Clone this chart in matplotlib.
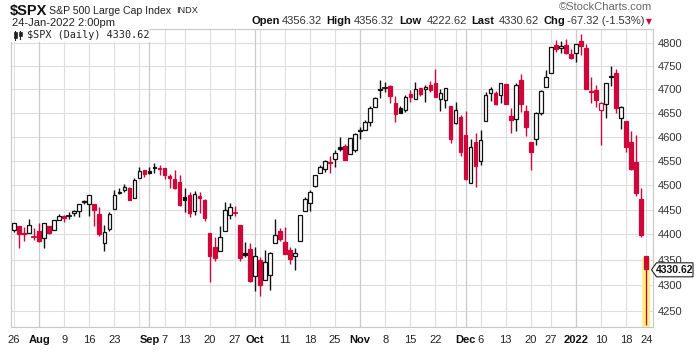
import matplotlib
matplotlib.use('Agg')
import matplotlib.pyplot as plt
from matplotlib.patches import Rectangle, Polygon
from matplotlib.lines import Line2D
from matplotlib.ticker import FixedLocator, NullLocator, FuncFormatter

# ---------------- data (S&P 500 daily, 26-Jul-2021 .. 24-Jan-2022) ----------------
prev_close_start = 4411.79

opens = [
    4409.58, 4416.38, 4402.95, 4403.59, 4395.12,
    4406.86, 4392.74, 4415.95, 4408.86, 4429.07,
    4437.77, 4435.79, 4442.18, 4446.08, 4464.84,
    4461.65, 4462.12, 4440.94, 4382.44, 4410.56,
    4450.29, 4484.40, 4490.45, 4493.75, 4474.10,
    4513.76, 4529.75,
    4528.80, 4534.48, 4532.42,
    4535.38, 4518.09, 4513.02, 4506.92,
    4474.81, 4479.33, 4447.49, 4477.09, 4469.74,
    4402.95, 4374.45, 4367.43, 4406.75, 4438.04,
    4442.12, 4419.54, 4362.41, 4370.67,
    4317.16,
    4348.84, 4309.87, 4319.57, 4383.73, 4406.51,
    4385.44, 4368.31, 4358.01, 4386.75, 4447.69,
    4463.72, 4497.34, 4524.42, 4532.24, 4546.12,
    4553.69, 4578.69, 4580.22, 4562.84, 4572.87,
    4610.62, 4613.34, 4630.65, 4662.93, 4699.26,
    4701.48, 4707.25, 4670.26, 4659.39, 4655.24,
    4689.30, 4679.42, 4701.50, 4700.72, 4708.44,
    4712.00, 4678.48, 4675.78, 4664.63,
    4628.75, 4640.25,
    4602.82, 4504.73, 4589.49,
    4548.37, 4631.97, 4690.86, 4691.00, 4687.64,
    4710.30, 4642.99, 4636.46, 4719.13, 4652.50,
    4587.90, 4594.96, 4650.36, 4703.96,
    4733.99, 4795.49, 4788.64, 4794.23, 4775.21,
    4778.14, 4804.51, 4787.99, 4693.39, 4697.66,
    4655.34, 4669.14, 4728.59, 4733.56, 4637.99,
    4632.24, 4588.03, 4547.35, 4471.38,
    4356.32]

highs = [
    4422.73, 4416.38, 4415.47, 4429.97, 4412.25,
    4422.18, 4423.79, 4416.17, 4429.76, 4440.82,
    4439.39, 4445.21, 4449.44, 4461.77, 4468.37,
    4480.26, 4462.12, 4454.32, 4418.61, 4444.35,
    4489.88, 4492.81, 4501.71, 4495.90, 4513.33,
    4537.36, 4531.39,
    4537.11, 4545.85, 4541.45,
    4535.38, 4521.79, 4529.90, 4520.47,
    4492.99, 4485.68, 4486.87, 4485.87, 4471.52,
    4402.95, 4394.87, 4416.75, 4465.40, 4463.12,
    4457.30, 4419.54, 4385.57, 4382.55,
    4375.19,
    4355.51, 4369.23, 4365.57, 4429.97, 4412.02,
    4415.88, 4374.89, 4372.87, 4439.73, 4475.82,
    4488.75, 4520.40, 4540.87, 4551.44, 4559.67,
    4572.62, 4598.53, 4584.57, 4597.55, 4608.08,
    4620.34, 4635.15, 4663.46, 4683.00, 4718.50,
    4714.92, 4708.53, 4684.85, 4664.55, 4688.47,
    4697.42, 4714.95, 4701.50, 4708.80, 4717.75,
    4743.83, 4699.39, 4702.87, 4664.63,
    4672.95, 4646.02,
    4652.94, 4595.46, 4608.03,
    4612.60, 4694.04, 4705.06, 4695.26, 4713.57,
    4710.30, 4660.47, 4712.60, 4731.99, 4666.70,
    4587.90, 4651.14, 4697.67, 4740.74,
    4791.49, 4807.02, 4804.06, 4808.93, 4786.83,
    4796.64, 4818.62, 4797.70, 4725.01, 4707.95,
    4673.02, 4714.13, 4748.83, 4744.13, 4665.13,
    4632.24, 4611.55, 4602.11, 4494.52,
    4356.32]

lows = [
    4405.45, 4372.51, 4387.01, 4403.59, 4389.65,
    4384.81, 4373.00, 4400.23, 4408.86, 4429.07,
    4424.74, 4430.03, 4436.42, 4435.96, 4460.82,
    4437.66, 4417.83, 4397.59, 4367.73, 4406.80,
    4450.29, 4482.28, 4485.66, 4468.99, 4474.10,
    4513.76, 4515.80,
    4522.02, 4524.66, 4521.30,
    4513.00, 4493.95, 4492.07, 4457.66,
    4445.70, 4435.46, 4438.37, 4443.80, 4427.76,
    4305.91, 4347.96, 4367.43, 4406.75, 4430.27,
    4436.19, 4346.33, 4355.08, 4306.24,
    4288.52,
    4278.94, 4309.87, 4290.49, 4383.73, 4386.22,
    4360.59, 4342.09, 4329.92, 4386.75, 4447.69,
    4447.47, 4496.41, 4524.40, 4526.89, 4524.00,
    4537.36, 4569.17, 4551.66, 4562.84, 4567.59,
    4595.06, 4613.34, 4621.19, 4662.59, 4681.32,
    4694.39, 4670.87, 4630.86, 4648.31, 4650.77,
    4672.86, 4679.42, 4684.41, 4672.78, 4694.22,
    4682.17, 4652.66, 4659.89, 4585.43,
    4625.26, 4560.00,
    4510.27, 4504.73, 4495.12,
    4540.51, 4631.97, 4674.52, 4665.98, 4670.64,
    4667.60, 4606.52, 4611.22, 4651.89, 4600.22,
    4531.10, 4583.16, 4645.53, 4703.96,
    4733.99, 4780.04, 4778.08, 4775.33, 4765.75,
    4758.17, 4774.27, 4699.44, 4671.26, 4662.74,
    4582.24, 4638.27, 4706.71, 4650.29, 4614.75,
    4568.70, 4530.20, 4477.95, 4395.34,
    4222.62]

closes = [
    4422.30, 4401.46, 4400.64, 4419.15, 4395.26,
    4387.16, 4423.15, 4402.66, 4429.10, 4436.52,
    4432.35, 4436.75, 4447.70, 4460.83, 4468.00,
    4479.71, 4448.08, 4400.27, 4405.80, 4441.67,
    4479.53, 4486.23, 4496.19, 4470.00, 4509.37,
    4528.79, 4522.68,
    4524.09, 4536.95, 4535.43,
    4520.03, 4514.07, 4493.28, 4458.58,
    4468.73, 4443.05, 4480.70, 4473.75, 4432.99,
    4357.73, 4354.19, 4395.64, 4448.98, 4455.48,
    4443.11, 4352.63, 4359.46, 4307.54,
    4357.04,
    4300.46, 4345.72, 4363.55, 4399.76, 4391.34,
    4361.19, 4350.65, 4363.80, 4438.26, 4471.37,
    4486.46, 4519.63, 4536.19, 4549.78, 4544.90,
    4566.48, 4574.79, 4551.68, 4596.42, 4605.38,
    4613.67, 4630.65, 4660.57, 4680.06, 4697.53,
    4701.70, 4685.25, 4646.71, 4649.27, 4682.85,
    4682.80, 4700.90, 4688.67, 4704.54, 4697.96,
    4682.94, 4690.70, 4701.46, 4594.62,
    4655.27, 4567.00,
    4513.04, 4577.10, 4538.43,
    4591.67, 4686.75, 4701.21, 4667.45, 4712.02,
    4668.97, 4634.09, 4709.85, 4668.67, 4620.64,
    4568.02, 4649.23, 4696.56, 4725.79,
    4791.19, 4786.35, 4793.06, 4778.73, 4766.18,
    4796.56, 4793.54, 4700.58, 4696.05, 4677.03,
    4670.29, 4713.07, 4726.35, 4659.03, 4662.85,
    4577.11, 4532.76, 4482.73, 4397.94,
    4330.62]

# x tick labels (trading-day index -> label)
tick_idx = [0, 5, 10, 15, 20, 27, 30, 34, 39, 44, 48, 54, 59, 64,
            69, 74, 79, 84, 90, 93, 98, 103, 107, 112, 117, 122, 126]
tick_lbl = ['26', 'Aug', '9', '16', '23', 'Sep', '7', '13', '20', '27', 'Oct', '11', '18', '25',
            'Nov', '8', '15', '22', 'Dec', '6', '13', '20', '27', '2022', '10', '18', '24']
month_lbls = {'Aug', 'Sep', 'Oct', 'Nov', 'Dec', '2022'}
week_grid_idx = [0, 5, 10, 15, 20, 25, 30, 34, 39, 44, 49, 54, 59, 64, 69, 74, 79,
                 84, 88, 93, 98, 103, 107, 112, 117, 122, 126]
month_grid_idx = [5, 27, 48, 69, 90, 112]
y_ticks = [4250, 4300, 4350, 4400, 4450, 4500, 4550, 4600, 4650, 4700, 4750, 4800]

# ---------------- figure ----------------
plt.rcParams['font.family'] = ['Liberation Sans', 'DejaVu Sans']
W, H = 700, 352
fig = plt.figure(figsize=(7, 3.52), dpi=100)
fig.patch.set_facecolor('white')


def fx(x):
    return x / W


def fy(y):
    return 1 - y / H


RED = '#d0063a'
BLK = '#111111'

ax = fig.add_axes([fx(10.7), fy(327), (652.7 - 10.7) / W, (327 - 29) / H])
ax.set_yscale('log')
ax.set_ylim(4219, 4830)
ax.set_xlim(-0.66, 127.3)
ax.yaxis.set_major_locator(FixedLocator(y_ticks))
ax.yaxis.set_minor_locator(NullLocator())
ax.yaxis.set_major_formatter(FuncFormatter(lambda v, p: f"{v:.0f}"))
ax.yaxis.tick_right()
ax.tick_params(axis='y', length=0, pad=3.5, labelsize=8, labelcolor='#333333')
ax.set_xticks(tick_idx)
ax.set_xticklabels(tick_lbl)
ax.tick_params(axis='x', length=0, pad=6, labelsize=8, labelcolor='#222222')
for t in ax.get_xticklabels():
    if t.get_text() in month_lbls:
        t.set_fontweight('bold')
        t.set_color('#111111')
for s in ax.spines.values():
    s.set_color('#c8c8c8')
    s.set_linewidth(0.8)

for v in y_ticks:
    ax.axhline(v, color='#dedede', lw=0.8, zorder=0)
for i in week_grid_idx:
    ax.axvline(i, color='#dedede', lw=0.8, zorder=0)
for i in month_grid_idx:
    ax.axvline(i, color='#cccccc', lw=0.9, zorder=0)

# highlight last bar
n = len(closes)
ax.add_patch(Rectangle((n - 1 - 0.8, 4200), 1.6, 4354 - 4200,
                       facecolor='#fff28a', edgecolor='none', zorder=1))

bw = 0.72
for i in range(n):
    o, h, l, c = opens[i], highs[i], lows[i], closes[i]
    pc = prev_close_start if i == 0 else closes[i - 1]
    col = RED if c < pc else BLK
    ax.plot([i, i], [l, h], color=col, lw=1.0, zorder=2, solid_capstyle='butt')
    lo, hi = min(o, c), max(o, c)
    if hi - lo < 1.0:
        ax.plot([i - bw / 2, i + bw / 2], [c, c], color=col, lw=1.3, zorder=3)
    else:
        face = 'white' if c > o else col
        ax.add_patch(Rectangle((i - bw / 2, lo), bw, hi - lo, facecolor=face,
                               edgecolor=col, lw=0.9, zorder=3))

# ---------------- legend inside plot ----------------
fig.add_artist(Rectangle((fx(11.2), fy(41.5)), fx(150) - fx(11.2), fy(29.5) - fy(41.5),
                         transform=fig.transFigure, facecolor='white', edgecolor='none', zorder=5))
for (xx, y0, y1, b0, b1) in [(15.5, 31, 39.5, 32.5, 37.5), (20, 30.5, 38.5, 32, 36)]:
    fig.add_artist(Line2D([fx(xx), fx(xx)], [fy(y1), fy(y0)], transform=fig.transFigure,
                          color='#222222', lw=0.8, zorder=6))
    fig.add_artist(Rectangle((fx(xx - 1.5), fy(b1)), fx(3), fy(b0) - fy(b1),
                             transform=fig.transFigure, facecolor='#222222',
                             edgecolor='#222222', lw=0.5, zorder=6))
fig.text(fx(27), fy(35.5), '$SPX (Daily) 4330.62', family='DejaVu Sans Mono', fontsize=7.3,
         color='#222222', va='center', ha='left', zorder=7)

# ---------------- header ----------------
fig.text(fx(10), fy(10.5), '$SPX', fontsize=10.5, fontweight='bold', va='center', ha='left', color='#111111')
fig.text(fx(49), fy(10.5), 'S&P 500 Large Cap Index', fontsize=7.6, va='center', ha='left', color='#222222')
fig.text(fx(176), fy(10.5), 'INDX', fontsize=6.6, va='center', ha='left', color='#222222')
fig.text(fx(12), fy(22.5), '24-Jan-2022 2:00pm', fontsize=8, va='center', ha='left', color='#222222')
fig.text(fx(652), fy(7.5), '\u00a9StockCharts.com', fontsize=8, va='center', ha='right', color='#666666')

hdr = [(252, 'Open', True), (282, '4356.32', False), (326, 'High', True), (354, '4356.32', False),
       (399, 'Low', True), (427, '4222.62', False), (471, 'Last', True), (499, '4330.62', False),
       (544, 'Chg', True), (567, '-67.32 (-1.53%)', False)]
for xx, txt, b in hdr:
    fig.text(fx(xx), fy(21.5), txt, fontsize=8, fontweight='bold' if b else 'normal',
             va='center', ha='left', color='#111111' if b else '#333333')
fig.text(fx(649), fy(21.5), '\u25bc', family='DejaVu Sans', fontsize=5.5, va='center',
         ha='center', color=RED)

# ---------------- last price tag ----------------
yc = 269.8
tag = Polygon([(fx(651.5), fy(yc)), (fx(656.5), fy(yc - 7)), (fx(693), fy(yc - 7)),
               (fx(693), fy(yc + 7)), (fx(656.5), fy(yc + 7))], closed=True,
              transform=fig.transFigure, facecolor='white', edgecolor='#222222', lw=0.8, zorder=6)
fig.add_artist(tag)
fig.text(fx(675), fy(yc), '4330.62', fontsize=7.5, fontweight='bold', va='center', ha='center',
         color='#111111', zorder=7)

fig.savefig('out.png', dpi=100)
